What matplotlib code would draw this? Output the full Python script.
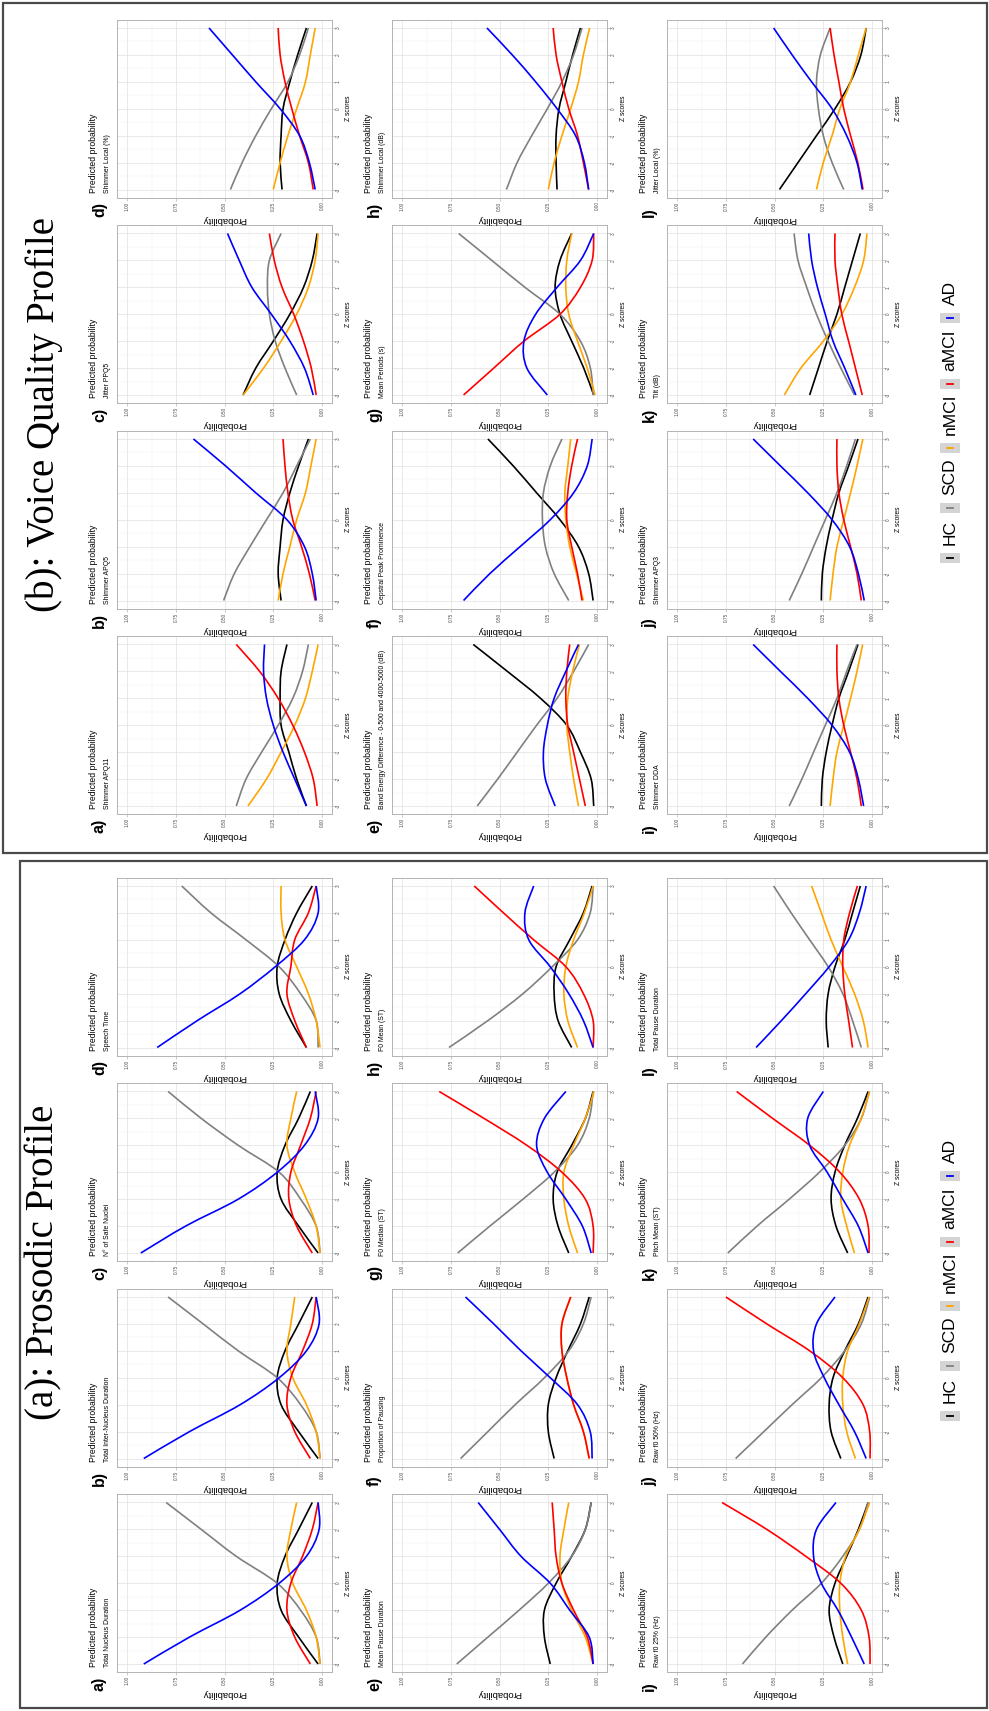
import numpy as np
import matplotlib
matplotlib.use('Agg')
import matplotlib.pyplot as plt
from matplotlib import font_manager
from matplotlib.patches import Rectangle, PathPatch
from matplotlib.path import Path
from matplotlib.lines import Line2D

W, H = 989, 1711

# ---------------- data ----------------
z_scores = [-3, -2, -1, 0, 1, 2, 3]
groups = ['HC', 'SCD', 'nMCI', 'aMCI', 'AD']
group_colors = ['black', '#808080', 'orange', 'red', 'blue']
tags = ['a)', 'b)', 'c)', 'd)', 'e)', 'f)', 'g)', 'h)', 'i)', 'j)', 'k)', 'l)']

prosodic_titles = [
    'Total Nucleus Duration', 'Total Inter-Nucleus Duration', 'N° of Safe Nuclei', 'Speech Time',
    'Mean Pause Duration', 'Proportion of Pausing', 'F0 Median (ST)', 'F0 Mean (ST)',
    'Raw f0 25% (Hz)', 'Raw f0 50% (Hz)', 'Pitch Mean (ST)', 'Total Pause Duration',
]
prosodic_hc = [
    [.02, .12, .21, .23, .19, .12, .05],
    [.02, .12, .21, .23, .19, .12, .05],
    [.02, .12, .21, .23, .19, .12, .06],
    [.08, .16, .22, .23, .19, .13, .05],
    [.24, .27, .27, .21, .13, .06, .03],
    [.22, .25, .25, .21, .15, .085, .04],
    [.145, .20, .225, .205, .13, .06, .02],
    [.13, .20, .22, .21, .14, .07, .025],
    [.15, .195, .22, .19, .13, .07, .02],
    [.16, .21, .22, .20, .14, .07, .02],
    [.125, .185, .21, .19, .14, .075, .02],
    [.225, .235, .225, .19, .14, .10, .06],
]
prosodic_scd = [
    [.01, .03, .11, .23, .44, .62, .80],
    [.01, .03, .11, .23, .43, .61, .79],
    [.01, .03, .11, .22, .43, .62, .79],
    [.02, .03, .11, .22, .39, .57, .72],
    [.72, .56, .40, .25, .13, .06, .03],
    [.70, .56, .42, .27, .145, .07, .03],
    [.715, .55, .38, .22, .10, .04, .02],
    [.76, .56, .38, .23, .10, .035, .02],
    [.665, .545, .41, .26, .15, .065, .02],
    [.70, .555, .41, .26, .14, .055, .012],
    [.74, .59, .425, .27, .14, .055, .015],
    [.055, .10, .15, .225, .32, .415, .505],
]
prosodic_nmci = [
    [.01, .03, .08, .15, .18, .16, .13],
    [.01, .03, .08, .15, .18, .16, .14],
    [.01, .03, .08, .14, .18, .16, .13],
    [.01, .03, .07, .13, .19, .21, .21],
    [.02, .06, .13, .18, .19, .17, .145],
    [.04, .07, .12, .155, .18, .18, .135],
    [.10, .145, .17, .17, .12, .06, .015],
    [.10, .15, .17, .16, .12, .065, .02],
    [.125, .15, .165, .165, .135, .065, .012],
    [.085, .13, .15, .15, .125, .065, .015],
    [.09, .13, .16, .15, .115, .055, .012],
    [.02, .045, .09, .15, .21, .26, .31],
]
prosodic_amci = [
    [.06, .14, .18, .16, .10, .05, .02],
    [.06, .14, .18, .16, .10, .05, .03],
    [.05, .13, .17, .16, .11, .06, .03],
    [.08, .14, .18, .16, .14, .07, .03],
    [.02, .05, .12, .18, .21, .22, .23],
    [.04, .07, .12, .155, .18, .18, .135],
    [.02, .02, .06, .18, .36, .58, .81],
    [.02, .02, .07, .16, .325, .48, .63],
    [.01, .015, .055, .16, .34, .54, .77],
    [.01, .012, .046, .15, .32, .54, .75],
    [.015, .02, .065, .165, .32, .51, .695],
    [.10, .12, .14, .15, .145, .115, .075],
]
prosodic_ad = [
    [.915, .68, .42, .22, .08, .015, .02],
    [.915, .68, .42, .22, .08, .015, .03],
    [.93, .70, .43, .23, .09, .02, .035],
    [.846, .64, .42, .24, .09, .02, .03],
    [.02, .04, .14, .24, .39, .50, .61],
    [.025, .035, .10, .24, .39, .53, .675],
    [.03, .075, .16, .255, .31, .27, .16],
    [.02, .07, .145, .24, .35, .37, .325],
    [.04, .105, .175, .26, .30, .285, .185],
    [.03, .09, .17, .245, .30, .285, .19],
    [.02, .07, .15, .23, .32, .33, .25],
    [.595, .465, .34, .22, .12, .065, .03],
]

voice_titles = [
    'Shimmer APQ11', 'Shimmer APQ5', 'Jitter PPQ5', 'Shimmer Local (%)',
    'Band Energy Difference - 0-500 and 4000-5000 (dB)', 'Cepstral Peak Prominence',
    'Mean Periods (s)', 'Shimmer Local (dB)',
    'Shimmer DDA', 'Shimmer APQ3', 'Tilt (dB)', 'Jitter Local (%)',
]
voice_hc = [
    [.08, .13, .17, .21, .215, .21, .18],
    [.21, .225, .215, .20, .165, .12, .07],
    [.405, .34, .25, .165, .095, .05, .025],
    [.205, .215, .21, .20, .165, .125, .08],
    [.017, .03, .085, .155, .29, .46, .635],
    [.02, .043, .095, .19, .31, .43, .56],
    [.017, .068, .13, .19, .215, .19, .13],
    [.205, .21, .21, .195, .16, .125, .085],
    [.26, .255, .235, .205, .17, .12, .072],
    [.26, .255, .235, .205, .17, .12, .072],
    [.32, .275, .23, .18, .14, .10, .06],
    [.475, .38, .285, .19, .11, .057, .03],
]
voice_scd = [
    [.44, .39, .31, .225, .15, .10, .07],
    [.505, .45, .37, .285, .20, .13, .06],
    [.13, .19, .24, .27, .28, .27, .21],
    [.47, .41, .34, .26, .175, .115, .07],
    [.615, .51, .41, .31, .205, .12, .043],
    [.145, .22, .265, .28, .275, .24, .18],
    [.02, .034, .085, .19, .37, .54, .71],
    [.465, .41, .335, .255, .18, .12, .077],
    [.425, .36, .30, .24, .18, .13, .077],
    [.425, .36, .30, .24, .18, .13, .085],
    [.09, .16, .225, .285, .335, .38, .40],
    [.145, .205, .25, .275, .285, .265, .215],
]
voice_nmci = [
    [.38, .285, .21, .14, .085, .05, .02],
    [.225, .20, .165, .13, .085, .057, .03],
    [.405, .30, .21, .13, .07, .035, .02],
    [.25, .215, .175, .13, .085, .06, .035],
    [.095, .12, .14, .155, .15, .125, .09],
    [.07, .105, .14, .16, .165, .15, .135],
    [.01, .05, .10, .145, .16, .155, .13],
    [.25, .22, .18, .135, .095, .07, .038],
    [.215, .20, .18, .145, .11, .077, .048],
    [.215, .20, .18, .145, .11, .077, .047],
    [.45, .365, .25, .155, .09, .043, .026],
    [.285, .25, .205, .165, .11, .07, .03],
]
voice_amci = [
    [.025, .045, .09, .15, .225, .32, .44],
    [.035, .065, .105, .15, .175, .19, .20],
    [.03, .055, .095, .145, .205, .245, .27],
    [.045, .07, .115, .155, .19, .215, .225],
    [.06, .09, .12, .15, .16, .155, .14],
    [.077, .10, .13, .155, .15, .13, .10],
    [.685, .53, .375, .19, .085, .025, .017],
    [.043, .07, .10, .145, .18, .21, .225],
    [.055, .077, .11, .145, .17, .18, .18],
    [.055, .077, .11, .145, .17, .18, .18],
    [.05, .085, .12, .155, .175, .19, .19],
    [.046, .073, .11, .145, .17, .195, .215],
]
voice_ad = [
    [.08, .14, .20, .25, .285, .30, .295],
    [.03, .05, .09, .18, .34, .495, .66],
    [.045, .09, .165, .26, .36, .425, .485],
    [.035, .065, .115, .215, .34, .46, .58],
    [.215, .265, .275, .255, .22, .16, .095],
    [.685, .55, .395, .24, .12, .05, .025],
    [.255, .36, .375, .315, .205, .085, .017],
    [.043, .065, .11, .205, .315, .435, .565],
    [.043, .07, .115, .205, .33, .47, .61],
    [.04, .07, .115, .205, .33, .47, .61],
    [.083, .14, .20, .24, .28, .31, .325],
    [.05, .077, .13, .205, .31, .41, .505],
]

# ---------------- fonts ----------------
installed = {f.name for f in font_manager.fontManager.ttflist}
if 'Liberation Sans Narrow' in installed:
    narrow, shrink = 'Liberation Sans Narrow', 1.0
else:
    narrow, shrink = 'Liberation Sans', 0.82
plt.rcParams['font.family'] = [narrow, 'DejaVu Sans']


def fx(px):
    return px / W


def fy(py):
    return 1 - py / H


def smooth_path(xs, ys):
    # cubic Bezier path passing through every read point (drawn smooth like ggplot)
    pts = np.column_stack([xs, ys]).astype(float)
    ext = np.vstack([pts[0], pts, pts[-1]])
    verts, codes = [pts[0]], [Path.MOVETO]
    for i in range(len(pts) - 1):
        p0, p1, p2, p3 = ext[i], ext[i + 1], ext[i + 2], ext[i + 3]
        verts += [p1 + (p2 - p0) / 6, p2 - (p3 - p1) / 6, p2]
        codes += [Path.CURVE4] * 3
    return Path(verts, codes)


fig = plt.figure(figsize=(W / 100, H / 100), dpi=100)
fig.patch.set_facecolor('white')

UNIT_P = 194.8     # px per probability unit
UNIT_Z = 26.92     # px per z unit


def draw_panel(base_y, titles, series, panel_title, title_y, box):
    for k in range(12):
        r, c = k // 4, k % 4
        x_one = 127.2 + 275 * r
        left = x_one - 0.05 * UNIT_P
        width = 1.1 * UNIT_P
        bottom = base_y - 205.5 * c + 0.3 * UNIT_Z
        height = 6.6 * UNIT_Z
        ax = fig.add_axes([fx(left), fy(bottom), fx(width), height / H])
        for vals, col in zip(series, group_colors):
            ax.add_patch(PathPatch(smooth_path(vals[k], z_scores), fill=False,
                                   edgecolor=col, lw=1.2, capstyle='butt'))
        ax.set_xlim(1.05, -0.05)
        ax.set_ylim(-3.3, 3.3)
        ax.set_xticks([0, .25, .5, .75, 1])
        ax.set_xticklabels(['0.00', '0.25', '0.50', '0.75', '1.00'])
        ax.set_xticks([.125, .375, .625, .875], minor=True)
        ax.set_yticks(z_scores)
        ax.set_yticklabels([str(v) for v in z_scores])
        ax.set_yticks([-2.5, -1.5, -.5, .5, 1.5, 2.5], minor=True)
        ax.grid(which='major', color='#e3e3e3', lw=0.55)
        ax.grid(which='minor', color='#f0f0f0', lw=0.35)
        ax.set_axisbelow(True)
        ax.yaxis.tick_right()
        ax.yaxis.set_label_position('right')
        ax.tick_params(which='major', length=2, width=0.5, color='#b3b3b3',
                       labelcolor='#4d4d4d', labelsize=3.4, pad=0.8)
        ax.tick_params(which='minor', length=0)
        ax.tick_params(axis='x', labelrotation=90)
        ax.tick_params(axis='y', labelrotation=90)
        for t in ax.get_yticklabels():
            t.set_va('center')
        for sp in ax.spines.values():
            sp.set_color('#b3b3b3')
            sp.set_linewidth(0.7)
        ax.set_xlabel('Probability', rotation=180, fontsize=6.8,
                      family=['Liberation Sans', 'DejaVu Sans'], labelpad=3)
        ax.set_ylabel('Z scores', rotation=90, fontsize=5.8 * shrink, labelpad=3)
        # subplot title, subtitle and tag
        fig.text(fx(left - 24), fy(bottom - 5), 'Predicted probability', rotation=90,
                 ha='center', va='bottom', fontsize=7.6 * shrink)
        fig.text(fx(left - 9.6), fy(bottom - 5), titles[k], rotation=90,
                 ha='center', va='bottom', fontsize=6.0 * shrink)
        fig.text(fx(left - 18), fy(bottom + 19), tags[k], rotation=90,
                 ha='center', va='bottom', fontsize=11.5, fontweight='bold')

    # panel frame
    x0, y0, x1, y1 = box
    fig.add_artist(Rectangle((fx(x0), fy(y1)), fx(x1 - x0), (y1 - y0) / H,
                             transform=fig.transFigure, fill=False,
                             edgecolor='#4a4a4a', lw=1.6))
    # panel title
    fig.text(fx(44), fy(title_y), panel_title, rotation=90, ha='center', va='center',
             fontsize=28, family=['Liberation Serif', 'DejaVu Serif'])

    # legend
    key_y = [558, 508, 448, 384, 318]
    for g, col, ky in zip(groups, group_colors, key_y):
        ky = ky + (base_y - 806)
        fig.add_artist(Rectangle((fx(939.5), fy(ky + 5)), fx(20.5), 10 / H,
                                 transform=fig.transFigure, facecolor='#d4d4d4',
                                 edgecolor='none'))
        fig.add_artist(Line2D([fx(947), fx(953)], [fy(ky), fy(ky)],
                              transform=fig.transFigure, color=col, lw=1.3))
        fig.text(fx(950), fy(ky - 13), g, rotation=90, ha='center', va='bottom',
                 fontsize=12.5)


draw_panel(806, voice_titles, [voice_hc, voice_scd, voice_nmci, voice_amci, voice_ad],
           '(b): Voice Quality Profile', 415, (3, 2.7, 987, 853.3))
draw_panel(1664, prosodic_titles,
           [prosodic_hc, prosodic_scd, prosodic_nmci, prosodic_amci, prosodic_ad],
           '(a): Prosodic Profile', 1262, (20, 860.7, 987, 1708))

fig.savefig('out.png', dpi=100, facecolor='white')
